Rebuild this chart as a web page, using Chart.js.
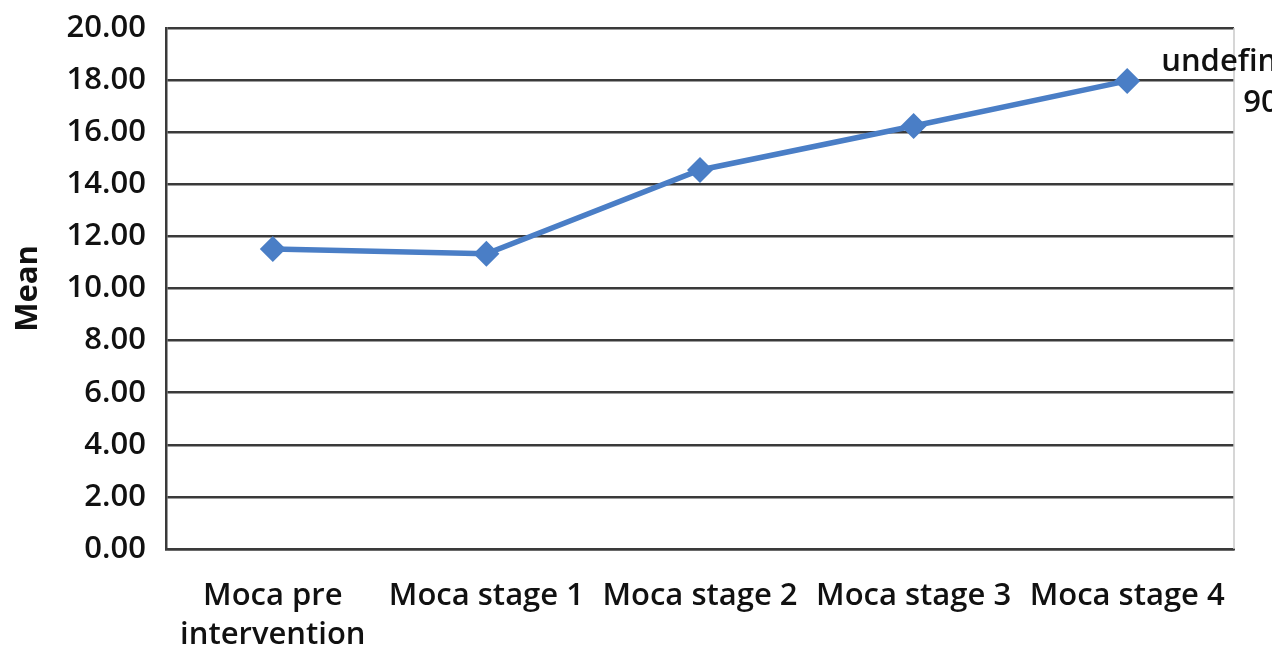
<!DOCTYPE html>
<html>
<head>
<meta charset="utf-8">
<script src="https://cdn.jsdelivr.net/npm/chart.js@4/dist/chart.umd.min.js"></script>
<style>
  html, body { margin: 0; padding: 0; background: #fff; }
  #wrap { width: 1272px; height: 647px; }
</style>
</head>
<body>
<div id="wrap"><canvas id="chart" width="1272" height="647"></canvas></div>
<script>
// values
const categories = [['Moca pre', 'intervention'], 'Moca stage 1', 'Moca stage 2', 'Moca stage 3', 'Moca stage 4'];
const meanValues = [11.52, 11.33, 14.55, 16.24, 17.97];
const yTicks = [0, 2, 4, 6, 8, 10, 12, 14, 16, 18, 20];
const lastLabel = ['undefined', '90'];

const FONT = '"Open Sans", sans-serif';
const LINE_BLUE = '#4a7ec6';

// light right border of the plot box + the clipped label on the last point
const extras = {
  id: 'extras',
  afterDraw(chart) {
    const { ctx, chartArea } = chart;
    ctx.save();
    ctx.strokeStyle = '#c8c8c8';
    ctx.lineWidth = 1.5;
    ctx.beginPath();
    ctx.moveTo(chartArea.right, chartArea.top);
    ctx.lineTo(chartArea.right, chartArea.bottom);
    ctx.stroke();

    const meta = chart.getDatasetMeta(0);
    const pt = meta.data[meta.data.length - 1];
    ctx.fillStyle = '#111';
    ctx.font = '600 31px ' + FONT;
    ctx.textAlign = 'left';
    ctx.textBaseline = 'middle';
    ctx.fillText(lastLabel[0], pt.x + 34, pt.y - 19);
    ctx.fillText(lastLabel[1], pt.x + 116, pt.y + 22);
    ctx.restore();
  }
};

new Chart(document.getElementById('chart'), {
  type: 'line',
  data: {
    labels: categories,
    datasets: [{
      label: 'Mean',
      data: meanValues,
      borderColor: LINE_BLUE,
      backgroundColor: LINE_BLUE,
      borderWidth: 5.5,
      pointStyle: 'rectRot',
      pointRadius: 13,
      pointBorderWidth: 0,
      tension: 0,
      fill: false
    }]
  },
  options: {
    responsive: false,
    animation: false,
    layout: { autoPadding: false, padding: { top: 28, right: 38, left: 10, bottom: 0 } },
    plugins: {
      legend: { display: false },
      tooltip: { enabled: false }
    },
    scales: {
      x: {
        offset: true,
        grid: { display: false },
        border: { display: true, color: '#3a3a3a', width: 2.5 },
        ticks: {
          color: '#111',
          font: { family: FONT, size: 31, weight: '600', lineHeight: 1.25 },
          padding: 20,
          maxRotation: 0,
          autoSkip: false
        },
        afterFit(scale) { scale.height = 98; }
      },
      y: {
        min: 0,
        max: 20,
        afterBuildTicks(scale) { scale.ticks = yTicks.map(v => ({ value: v })); },
        grid: { color: '#3a3a3a', lineWidth: 2.5, drawTicks: false },
        border: { display: true, color: '#3a3a3a', width: 2.5 },
        ticks: {
          color: '#111',
          font: { family: FONT, size: 31, weight: '600', lineHeight: 0.4 },
          padding: 20,
          callback: v => Number(v).toFixed(2)
        },
        title: {
          display: true,
          text: 'Mean',
          color: '#111',
          font: { family: FONT, size: 31, weight: 'bold' },
          padding: { top: 0, bottom: 10 }
        },
        afterFit(scale) { scale.width = 156; }
      }
    }
  },
  plugins: [extras]
});
</script>
</body>
</html>
